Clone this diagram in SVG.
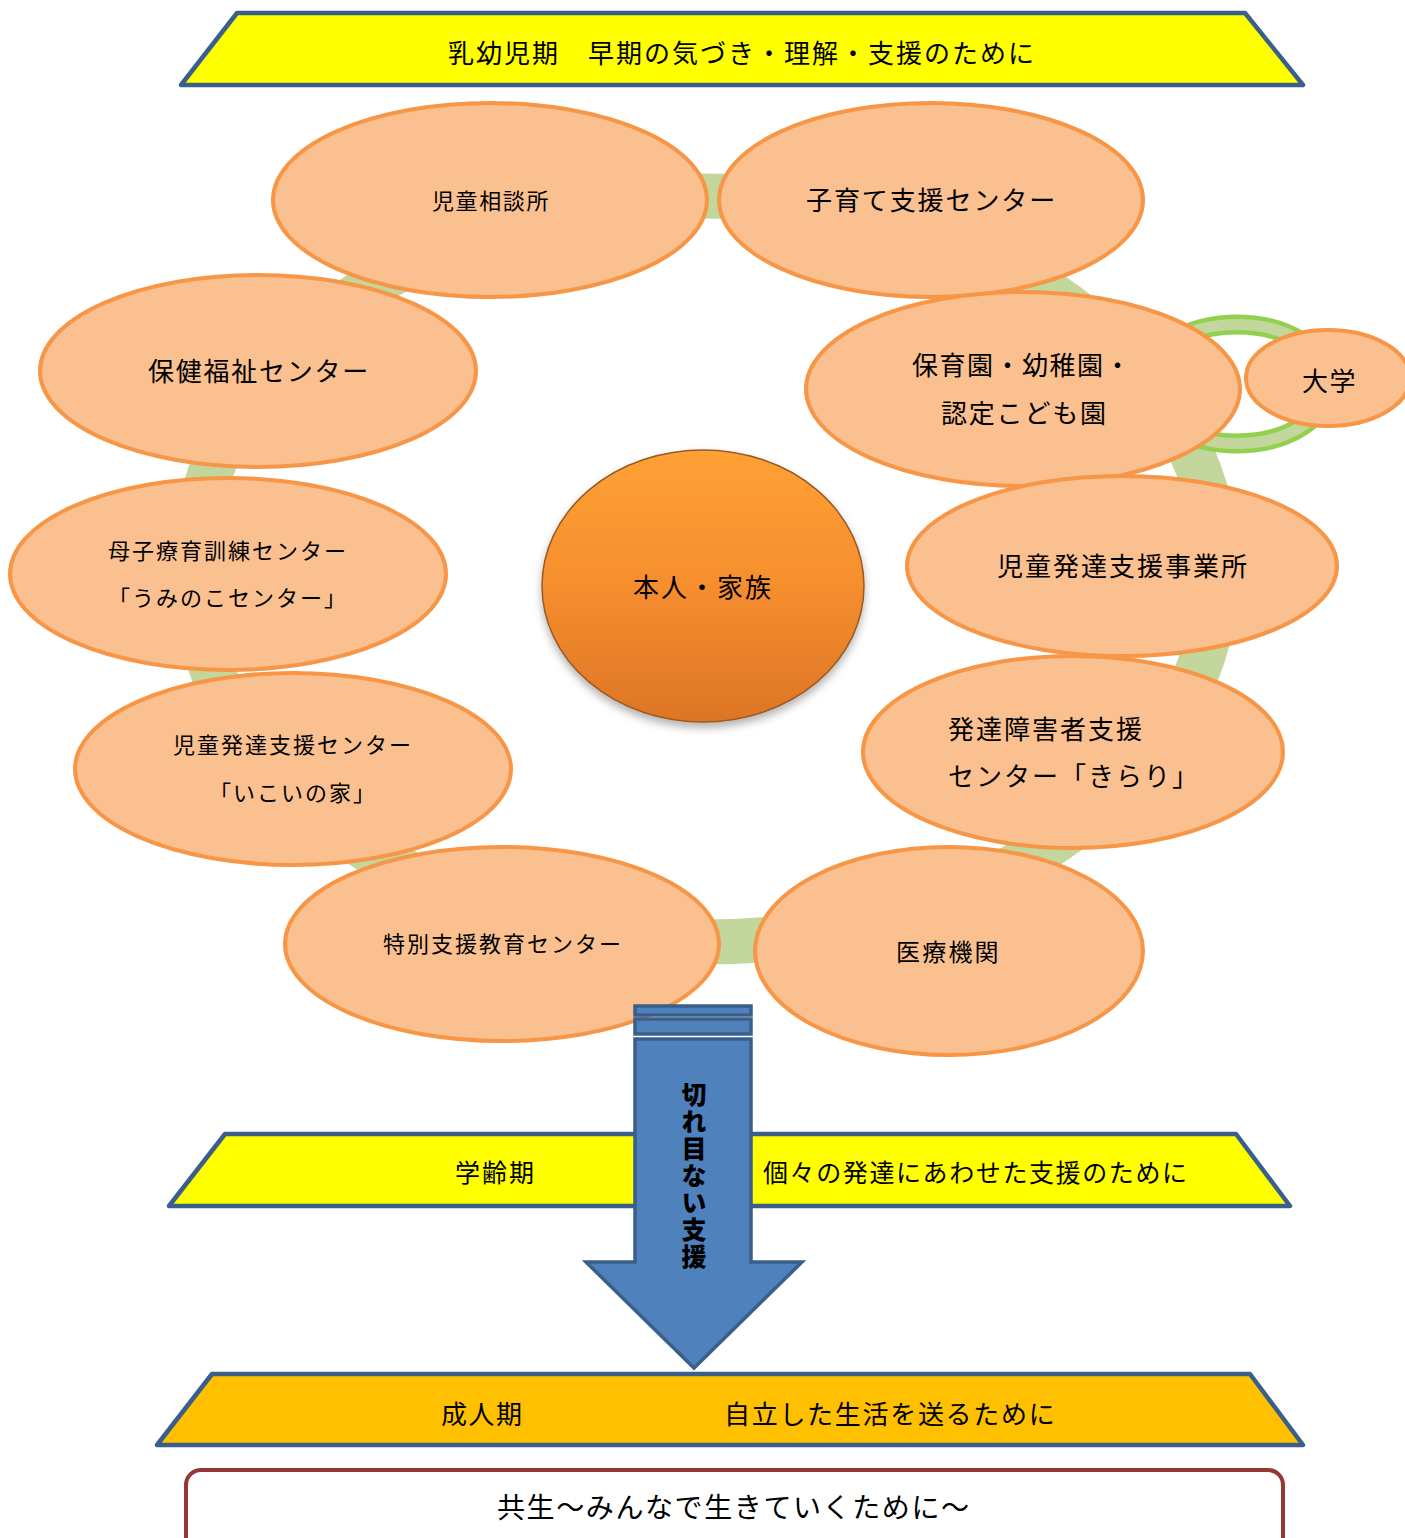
<svg xmlns="http://www.w3.org/2000/svg" width="1405" height="1538" viewBox="0 0 1405 1538">
<defs>
<style>
.t{font-family:"Noto Sans CJK JP","Noto Sans",sans-serif;fill:#000;dominant-baseline:central}
.node{fill:#FAC090;stroke:#F79646;stroke-width:4}
.ban{stroke:#3A5F8B;stroke-width:4.5;stroke-linejoin:round}
.arr{fill:#4F81BD;stroke:#3A5F8B;stroke-width:3.5}
</style>
<linearGradient id="cg" x1="0" y1="0" x2="0" y2="1">
<stop offset="0" stop-color="#FFA136"/>
<stop offset="0.5" stop-color="#F68E2E"/>
<stop offset="1" stop-color="#DD7526"/>
</linearGradient>
<filter id="sh" x="-20%" y="-20%" width="140%" height="150%">
<feDropShadow dx="0" dy="5" stdDeviation="4" flood-color="#000" flood-opacity="0.3"/>
</filter>
</defs>
<rect width="1405" height="1538" fill="#fff"/>

<g id="connectors">
<ellipse cx="705" cy="569" rx="512" ry="373" fill="none" stroke="#C3D69B" stroke-width="45"/>
<ellipse cx="1237" cy="384" rx="92" ry="59.5" fill="none" stroke="#92D050" stroke-width="20"/>
<ellipse cx="1237" cy="384" rx="92" ry="59.5" fill="none" stroke="#C3D69B" stroke-width="11"/>
</g>

<g id="banner-top">
<polygon class="ban" points="237,13 1245,13 1303,85 181,85" fill="#FFFF00"/>
<text class="t" x="448" y="51" font-size="26" letter-spacing="2">乳幼児期　早期の気づき・理解・支援のために</text>
</g>

<g id="n-jidousoudan">
<ellipse class="node" cx="490" cy="200" rx="217" ry="97"/>
<text class="t" x="432" y="199" font-size="22" letter-spacing="1.6">児童相談所</text>
</g>
<g id="n-kosodate">
<ellipse class="node" cx="931" cy="200" rx="212" ry="97"/>
<text class="t" x="806" y="198" font-size="26" letter-spacing="1.9">子育て支援センター</text>
</g>
<g id="n-hoken">
<ellipse class="node" cx="258" cy="371" rx="218" ry="96"/>
<text class="t" x="148" y="369" font-size="26" letter-spacing="1.75">保健福祉センター</text>
</g>
<g id="n-hoikuen">
<ellipse class="node" cx="1023" cy="389" rx="217" ry="97"/>
<text class="t" x="912" y="363" font-size="26" letter-spacing="1.5">保育園・幼稚園・</text>
<text class="t" x="941" y="411" font-size="26" letter-spacing="1.8">認定こども園</text>
</g>
<g id="n-daigaku">
<ellipse class="node" cx="1328" cy="378" rx="82" ry="48"/>
<text class="t" x="1302" y="379" font-size="26" letter-spacing="1.5">大学</text>
</g>
<g id="n-boshi">
<ellipse class="node" cx="228" cy="574" rx="218" ry="96"/>
<text class="t" x="108" y="549" font-size="22" letter-spacing="2">母子療育訓練センター</text>
<text class="t" x="108" y="596" font-size="22" letter-spacing="2">「うみのこセンター」</text>
</g>
<g id="n-jigyousho">
<ellipse class="node" cx="1122" cy="566" rx="215" ry="90"/>
<text class="t" x="997" y="564" font-size="26" letter-spacing="2">児童発達支援事業所</text>
</g>
<g id="n-ikoi">
<ellipse class="node" cx="293" cy="769" rx="218" ry="96"/>
<text class="t" x="173" y="743" font-size="22" letter-spacing="2">児童発達支援センター</text>
<text class="t" x="209" y="791" font-size="22" letter-spacing="2">「いこいの家」</text>
</g>
<g id="n-kirari">
<ellipse class="node" cx="1073" cy="752" rx="210" ry="96"/>
<text class="t" x="948" y="727" font-size="26" letter-spacing="2">発達障害者支援</text>
<text class="t" x="948" y="774" font-size="26" letter-spacing="2">センター「きらり」</text>
</g>
<g id="n-tokubetsu">
<ellipse class="node" cx="502" cy="944" rx="217" ry="97"/>
<text class="t" x="383" y="942" font-size="22" letter-spacing="2">特別支援教育センター</text>
</g>
<g id="n-iryou">
<ellipse class="node" cx="949" cy="951" rx="194" ry="104"/>
<text class="t" x="896" y="950" font-size="24" letter-spacing="2.2">医療機関</text>
</g>

<g id="n-center">
<ellipse cx="703" cy="586" rx="161" ry="136" fill="url(#cg)" stroke="#9A5A22" stroke-width="1.5" filter="url(#sh)"/>
<text class="t" x="633" y="585" font-size="26" letter-spacing="2">本人・家族</text>
</g>

<g id="banner-mid">
<polygon class="ban" points="225,1134 1236,1134 1290,1206 169,1206" fill="#FFFF00"/>
<text class="t" x="455" y="1171" font-size="25" letter-spacing="2">学齢期</text>
<text class="t" x="763" y="1171" font-size="25" letter-spacing="1.6">個々の発達にあわせた支援のために</text>
</g>

<g id="arrow">
<rect class="arr" x="635" y="1006" width="116" height="9"/>
<rect class="arr" x="635" y="1019" width="116" height="15"/>
<polygon class="arr" points="635,1039 751,1039 751,1262 802,1262 694,1368 586,1262 635,1262" stroke-linejoin="miter"/>
<text class="t" x="694" y="1082" font-size="25" font-weight="900" letter-spacing="2" style="writing-mode:vertical-rl">切れ目ない支援</text>
</g>

<g id="banner-bottom">
<polygon class="ban" points="212,1374 1250,1374 1303,1445 157,1445" fill="#FFC000"/>
<text class="t" x="441" y="1412" font-size="26" letter-spacing="1.5">成人期</text>
<text class="t" x="724" y="1412" font-size="26" letter-spacing="1.7">自立した生活を送るために</text>
</g>

<g id="kyousei">
<rect x="186" y="1470" width="1097" height="90" rx="15" ry="15" fill="#fff" stroke="#953735" stroke-width="4"/>
<text class="t" x="497" y="1506" font-size="28" letter-spacing="1.6">共生～みんなで生きていくために～</text>
</g>
</svg>
